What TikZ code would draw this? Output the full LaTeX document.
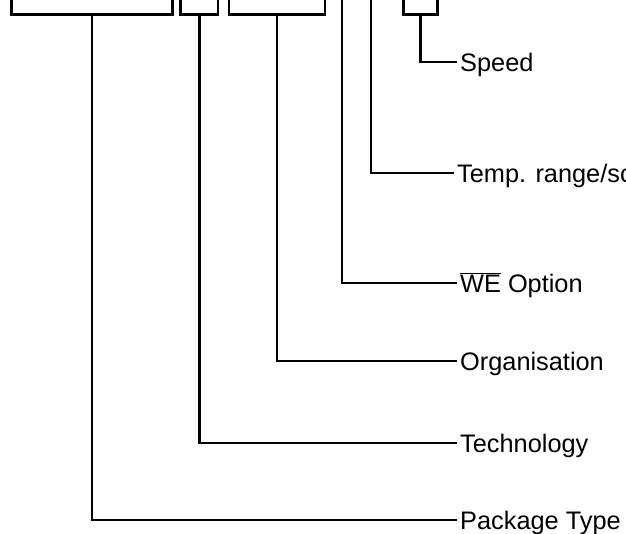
\documentclass[tikz,border=0pt]{standalone}
\usepackage{fontspec}
\setmainfont{Liberation Sans}
\usepackage{tikz}
\usetikzlibrary{positioning}

\begin{document}
\begin{tikzpicture}[x=0.75pt, y=-0.75pt, line width=1.8pt,
    font=\fontsize{19}{22}\selectfont,
    box/.style={draw, inner sep=0pt, minimum height=40pt, anchor=south},
    lbl/.style={anchor=west, inner xsep=1.5pt, inner ysep=0pt, text height=13.6pt, text depth=0pt}]
  \useasboundingbox (0,0) rectangle (626,533);
  \clip (0,0) rectangle (626,533);
  % code boxes along the top
  \node (pkgbox) [box, minimum width=120.75pt] at (92,15.5) {};
  \node (techbox) [box, minimum width=28.1pt] at (199.3,15.5) {};
  \node (orgbox) [box, minimum width=72pt] at (277,15.5) {};
  \coordinate (wetop) at (342,-5);
  \coordinate (temptop) at (371,-5);
  \node (spdbox) [box, minimum width=25.5pt] at (420.5,15.5) {};
  % labels
  \node (speed) [lbl] at (457,62) {Speed};
  \node (temp) [lbl] at (454,173) {Temp. range/sc};
  \node (weopt) [lbl] at (457,283) {$\overline{\hbox{WE}}$ Option};
  \node (org) [lbl] at (457,361) {Organisation};
  \node (tech) [lbl] at (457,443) {Technology};
  \node (pkg) [lbl] at (457,520) {Package Type};
  % leaders
  \draw (spdbox.south) |- (speed.west);
  \draw (temptop) |- (temp.west);
  \draw (wetop) |- (weopt.west);
  \draw (orgbox.south) |- (org.west);
  \draw (techbox.south) |- (tech.west);
  \draw (pkgbox.south) |- (pkg.west);
\end{tikzpicture}
\end{document}
